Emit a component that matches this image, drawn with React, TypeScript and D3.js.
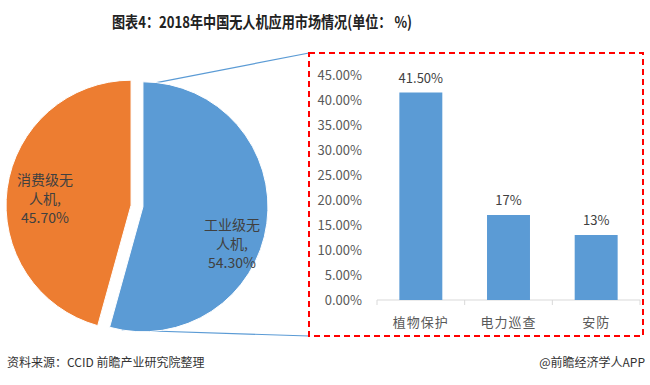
import React from 'react';
import * as d3 from 'd3';

const pieLabels = ['工业级无人机', '消费级无人机'];
const pieValues = [54.3, 45.7];
const pieLines = [
  ['工业级无', '人机,', '54.30%'],
  ['消费级无', '人机,', '45.70%'],
];
const barCategories = ['植物保护', '电力巡查', '安防'];
const barValues = [41.5, 17, 13];
const barValueLabels = ['41.50%', '17%', '13%'];
const yTicks = [0, 5, 10, 15, 20, 25, 30, 35, 40, 45];

const W = 650;
const H = 385;
const FONT = '"Noto Sans CJK SC", "Microsoft YaHei", sans-serif';
const BLUE = '#5b9bd5';
const ORANGE = '#ed7d31';

const App: React.FC = () => {
  // 饼图
  const cx = 137;
  const cy = 206;
  const r = 125;
  const explode = 6;
  const pie = d3
    .pie<number>()
    .sort(null)
    .startAngle(0)
    .endAngle(2 * Math.PI)
    .value((d) => d);
  const arcs = pie(pieValues);
  const arcGen = d3.arc<d3.PieArcDatum<number>>().innerRadius(0).outerRadius(r);
  const colors = [BLUE, ORANGE];

  // 柱状图
  const x = d3.scaleBand<string>().domain(barCategories).range([377, 640]).paddingInner(0).paddingOuter(0);
  const y = d3.scaleLinear().domain([0, 45]).range([300, 75]);
  const barW = x.bandwidth() * 0.49;

  const blueArc = arcs[0];
  const bMid = (blueArc.startAngle + blueArc.endAngle) / 2;
  const bdx = Math.sin(bMid) * explode;
  const bdy = -Math.cos(bMid) * explode;
  const topPt = [cx + bdx + Math.sin(0.11) * r, cy + bdy - Math.cos(0.11) * r];
  const botAng = blueArc.endAngle - 0.1;
  const botPt = [cx + bdx + Math.sin(botAng) * r, cy + bdy - Math.cos(botAng) * r];

  return (
    <svg
      width={W}
      height={H}
      style={{ position: 'absolute', left: 0, top: 0, background: '#fff' }}
      fontFamily={FONT}
    >
      <rect width={W} height={H} fill="#fff" />
      <text
        x={112}
        y={28}
        fontSize={16}
        fontWeight="bold"
        fill="#222"
        textLength={300}
        lengthAdjust="spacingAndGlyphs"
      >
        图表4：2018年中国无人机应用市场情况(单位： %)
      </text>

      {/* 连接线 */}
      <line x1={topPt[0]} y1={topPt[1]} x2={309} y2={53} stroke={BLUE} strokeWidth={1.2} />
      <line x1={botPt[0]} y1={botPt[1]} x2={309} y2={336} stroke={BLUE} strokeWidth={1.2} />

      {arcs.map((a, i) => {
        const mid = (a.startAngle + a.endAngle) / 2;
        const dx = Math.sin(mid) * explode;
        const dy = -Math.cos(mid) * explode;
        return (
          <path
            key={pieLabels[i]}
            d={arcGen(a) ?? ''}
            transform={`translate(${cx + dx},${cy + dy})`}
            fill={colors[i]}
            stroke="#fff"
            strokeWidth={1}
          />
        );
      })}
      {pieLines[0].map((t, j) => (
        <text key={'b' + j} x={232} y={230 + j * 19} textAnchor="middle" fontSize={14} fill="#404040">
          {t}
        </text>
      ))}
      {pieLines[1].map((t, j) => (
        <text key={'o' + j} x={45} y={185 + j * 19} textAnchor="middle" fontSize={14} fill="#404040">
          {t}
        </text>
      ))}

      {/* 红色虚线框 */}
      <rect
        x={309}
        y={53}
        width={334}
        height={283}
        fill="none"
        stroke="#ff0000"
        strokeWidth={2}
        strokeDasharray="6,4"
      />

      {yTicks.map((t) => (
        <text key={t} x={362} y={y(t) + 4.5} textAnchor="end" fontSize={13} fill="#595959">
          {t.toFixed(2)}%
        </text>
      ))}
      <line x1={377} x2={640} y1={y(0)} y2={y(0)} stroke="#d9d9d9" />
      {[...barCategories.map((c) => x(c) as number), 640].map((v, i) => (
        <line key={i} x1={v} x2={v} y1={y(0)} y2={y(0) + 5} stroke="#d9d9d9" />
      ))}
      {barCategories.map((c, i) => {
        const cxb = (x(c) as number) + x.bandwidth() / 2;
        return (
          <g key={c}>
            <rect x={cxb - barW / 2} y={y(barValues[i])} width={barW} height={y(0) - y(barValues[i])} fill={BLUE} />
            <text x={cxb} y={y(barValues[i]) - 10} textAnchor="middle" fontSize={13} fill="#404040">
              {barValueLabels[i]}
            </text>
            <text x={cxb} y={327} textAnchor="middle" fontSize={13} fill="#595959" letterSpacing={1}>
              {c}
            </text>
          </g>
        );
      })}

      <text x={7} y={367} fontSize={12} fill="#333">
        资料来源：CCID 前瞻产业研究院整理
      </text>
      <text x={645} y={367} textAnchor="end" fontSize={12} fill="#333">
        @前瞻经济学人APP
      </text>
    </svg>
  );
};

export default App;
